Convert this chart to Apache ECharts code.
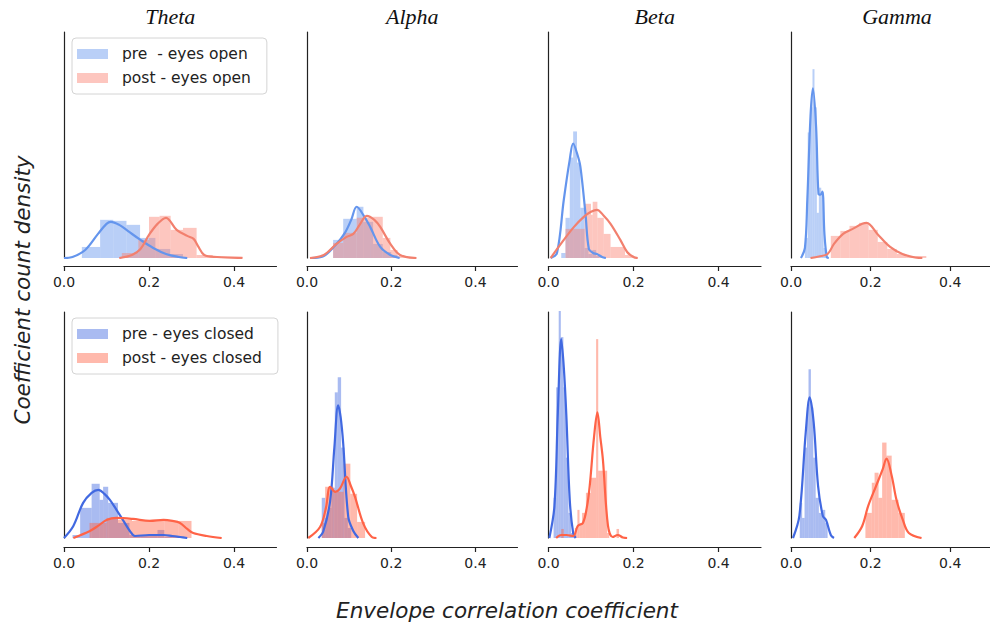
<!DOCTYPE html>
<html><head><meta charset="utf-8">
<script src="https://cdn.jsdelivr.net/npm/echarts@6/dist/echarts.min.js"></script>
<style>html,body{margin:0;padding:0;background:#fff}#c{width:990px;height:624px}</style>
</head><body><div id="c"></div>
<script>
// ---------------- DATA ----------------
const bands = ['Theta', 'Alpha', 'Beta', 'Gamma'];
const openNames = ['pre  - eyes open', 'post - eyes open'];
const closedNames = ['pre - eyes closed', 'post - eyes closed'];
const xTicks = [0, 0.2, 0.4];
const xTitle = 'Envelope correlation coefficient';
const yTitle = 'Coefficient count density';

// histogram bins: [binStart, binEnd, density]; kde: [x, density]
const thetaOpenPreBins = [[0.042,0.085,2.2],[0.085,0.116,7.6],[0.116,0.147,7.4],[0.147,0.179,6.6],[0.179,0.215,4.0],[0.215,0.25,1.8],[0.25,0.28,0.8]];
const thetaOpenPreKde = [[0,0],[0.02,0.2],[0.05,1.6],[0.08,4.8],[0.1,6.8],[0.11,7.2],[0.13,6.6],[0.15,5.4],[0.18,3.6],[0.21,2.0],[0.24,0.8],[0.27,0.2],[0.29,0]];
const thetaOpenPostBins = [[0.136,0.175,1.0],[0.175,0.2,3.6],[0.2,0.225,8.2],[0.225,0.251,8.4],[0.251,0.28,5.6],[0.28,0.312,6.0],[0.312,0.35,0.6],[0.35,0.42,0.3]];
const thetaOpenPostKde = [[0.13,0],[0.16,0.6],[0.18,1.8],[0.2,4.6],[0.22,6.8],[0.24,8.0],[0.265,5.6],[0.29,4.4],[0.305,3.8],[0.315,2.4],[0.33,0.6],[0.36,0.2],[0.42,0]];

const alphaOpenPreBins = [[0.062,0.086,3.6],[0.086,0.118,7.8],[0.118,0.134,10.2],[0.134,0.157,7.2],[0.157,0.18,2.8],[0.18,0.2,1.2],[0.2,0.215,0.6]];
const alphaOpenPreKde = [[0.01,0],[0.04,0.4],[0.07,2.8],[0.09,5.0],[0.105,7.6],[0.118,10.2],[0.135,8.4],[0.15,6.2],[0.174,2.2],[0.198,0.6],[0.22,0]];
const alphaOpenPostBins = [[0.062,0.086,3.0],[0.086,0.118,5.0],[0.118,0.15,8.0],[0.15,0.18,8.2],[0.18,0.198,4.0],[0.198,0.215,1.6],[0.215,0.24,0.4]];
const alphaOpenPostKde = [[0.007,0],[0.04,0.6],[0.07,2.8],[0.094,4.2],[0.11,4.8],[0.125,6.6],[0.142,8.4],[0.16,7.6],[0.174,6.2],[0.198,2.8],[0.221,0.6],[0.26,0]];

const betaOpenPreBins = [[0.03,0.04,1.0],[0.04,0.05,8.0],[0.05,0.058,20.0],[0.058,0.067,25.2],[0.067,0.075,19.0],[0.075,0.085,10.0],[0.085,0.094,2.0],[0.094,0.103,0.8],[0.103,0.112,1.6],[0.112,0.12,0.4]];
const betaOpenPreKde = [[0.005,0],[0.02,1.0],[0.036,11.6],[0.05,19.6],[0.058,22.8],[0.068,20.6],[0.075,18.2],[0.087,8.8],[0.095,1.8],[0.105,1.0],[0.114,0.8],[0.126,0.2],[0.135,0]];
const betaOpenPostBins = [[0.04,0.085,5.8],[0.085,0.1,10.8],[0.1,0.104,8.6],[0.104,0.115,11.2],[0.115,0.13,8.0],[0.13,0.146,4.8],[0.146,0.18,2.2],[0.18,0.2,0.6]];
const betaOpenPostKde = [[0.005,0],[0.036,3.6],[0.06,6.2],[0.083,8.2],[0.1,9.2],[0.114,9.6],[0.13,8.4],[0.146,6.8],[0.169,3.6],[0.185,1.2],[0.2,0.2],[0.21,0]];

const gammaOpenPreBins = [[0.035,0.042,4.0],[0.042,0.048,25.0],[0.048,0.054,30.0],[0.054,0.059,37.6],[0.059,0.065,30.0],[0.065,0.07,9.0],[0.07,0.076,14.0],[0.076,0.082,13.0],[0.082,0.088,2.0]];
const gammaOpenPreKde = [[0.025,0],[0.035,2.0],[0.041,11.6],[0.049,28.2],[0.055,33.8],[0.063,26.2],[0.069,12.8],[0.074,12.6],[0.079,13.2],[0.084,4.8],[0.09,0.2],[0.095,0]];
const gammaOpenPostBins = [[0.1,0.124,4.4],[0.124,0.147,5.4],[0.147,0.171,6.4],[0.171,0.195,7.0],[0.195,0.218,5.6],[0.218,0.242,3.2],[0.242,0.266,1.8],[0.266,0.29,0.8],[0.29,0.34,0.4]];
const gammaOpenPostKde = [[0.049,0],[0.07,0.3],[0.092,0.8],[0.108,2.8],[0.131,4.8],[0.155,5.8],[0.179,6.8],[0.19,7.0],[0.217,4.8],[0.249,2.2],[0.28,0.8],[0.312,0.1],[0.33,0]];

const thetaClosedPreBins = [[0.02,0.038,0.6],[0.038,0.065,6.0],[0.065,0.084,10.8],[0.084,0.092,7.6],[0.092,0.104,10.2],[0.104,0.127,7.0],[0.127,0.154,3.0],[0.154,0.18,0.6],[0.18,0.22,0.4],[0.22,0.236,1.6],[0.236,0.27,0.2]];
const thetaClosedPreKde = [[0,0],[0.022,2.4],[0.045,7.0],[0.065,9.0],[0.081,9.6],[0.095,8.8],[0.108,7.6],[0.125,5.4],[0.14,3.4],[0.155,1.4],[0.167,0.4],[0.2,0.6],[0.234,0.6],[0.255,0.4],[0.273,0.2],[0.29,0]];
const thetaClosedPostBins = [[0.06,0.1,3.0],[0.1,0.127,4.0],[0.127,0.16,3.6],[0.16,0.2,3.4],[0.2,0.236,3.6],[0.236,0.27,3.4],[0.27,0.3,3.4]];
const thetaClosedPostKde = [[0.022,0],[0.061,1.4],[0.08,2.4],[0.1,3.6],[0.124,4.0],[0.162,3.8],[0.202,3.4],[0.234,3.6],[0.255,3.4],[0.273,3.0],[0.29,1.8],[0.304,1.0],[0.336,0.4],[0.371,0]];

const alphaClosedPreBins = [[0.035,0.043,8.0],[0.043,0.05,4.0],[0.05,0.058,6.0],[0.058,0.066,10.0],[0.066,0.073,29.0],[0.073,0.081,32.0],[0.081,0.089,18.0],[0.089,0.097,4.0],[0.097,0.105,2.0]];
const alphaClosedPreKde = [[0.027,0],[0.039,1.4],[0.055,7.4],[0.065,18.0],[0.074,26.4],[0.08,24.0],[0.086,18.8],[0.098,4.2],[0.11,1.4],[0.122,0]];
const alphaClosedPostBins = [[0.035,0.043,3.0],[0.043,0.063,10.2],[0.063,0.087,9.2],[0.087,0.103,14.8],[0.103,0.119,8.8],[0.119,0.138,3.2]];
const alphaClosedPostKde = [[0.003,0],[0.031,2.2],[0.045,6.0],[0.055,10.2],[0.067,9.2],[0.078,9.8],[0.094,12.2],[0.104,10.4],[0.114,8.2],[0.134,2.8],[0.154,0.2],[0.165,0]];

const betaClosedPreBins = [[0.012,0.018,8.0],[0.018,0.024,30.0],[0.024,0.029,45.2],[0.029,0.035,40.0],[0.035,0.041,30.0],[0.041,0.047,16.0],[0.047,0.053,5.0],[0.053,0.06,1.0]];
const betaClosedPreKde = [[0.002,0],[0.014,6.4],[0.022,25],[0.03,39.6],[0.036,34],[0.042,24.4],[0.05,7.6],[0.058,1.0],[0.064,0]];
const betaClosedPostBins = [[0.03,0.036,1.8],[0.062,0.068,2.0],[0.068,0.073,5.6],[0.073,0.079,3.0],[0.079,0.088,5.0],[0.088,0.1,9.0],[0.1,0.112,12.0],[0.112,0.117,39.6],[0.117,0.138,13.4],[0.138,0.143,1.0],[0.16,0.166,1.8]];
const betaClosedPostKde = [[0.018,0],[0.03,0.6],[0.042,0.6],[0.058,0.4],[0.069,2.4],[0.081,3.0],[0.09,6.0],[0.097,10.4],[0.107,20],[0.115,25],[0.122,20],[0.128,15.6],[0.14,2.4],[0.151,0.2],[0.163,0.6],[0.175,0.1],[0.185,0]];

const gammaClosedPreBins = [[0.022,0.028,7.0],[0.028,0.034,4.0],[0.034,0.04,18.0],[0.04,0.044,26.0],[0.044,0.05,33.6],[0.05,0.056,26.0],[0.056,0.062,16.0],[0.062,0.07,8.0],[0.07,0.078,5.0],[0.078,0.086,5.6],[0.086,0.092,3.0]];
const gammaClosedPreKde = [[0.005,0],[0.021,4.4],[0.037,21],[0.047,28],[0.057,23],[0.068,10.4],[0.08,4.4],[0.088,3.6],[0.1,0.6],[0.108,0]];
const gammaClosedPostBins = [[0.187,0.203,5.0],[0.203,0.21,11.0],[0.21,0.22,13.0],[0.22,0.229,8.0],[0.229,0.24,19.0],[0.24,0.253,16.4],[0.253,0.27,7.6],[0.27,0.286,5.0]];
const gammaClosedPostKde = [[0.159,0],[0.179,2.4],[0.194,6.4],[0.214,10.4],[0.23,13.6],[0.24,15.8],[0.253,12.4],[0.265,7.6],[0.281,3.6],[0.296,1.0],[0.328,0]];

// ---------------- BUILD ----------------
const panels = [
  [[thetaOpenPreBins,thetaOpenPreKde,thetaOpenPostBins,thetaOpenPostKde],
   [alphaOpenPreBins,alphaOpenPreKde,alphaOpenPostBins,alphaOpenPostKde],
   [betaOpenPreBins,betaOpenPreKde,betaOpenPostBins,betaOpenPostKde],
   [gammaOpenPreBins,gammaOpenPreKde,gammaOpenPostBins,gammaOpenPostKde]],
  [[thetaClosedPreBins,thetaClosedPreKde,thetaClosedPostBins,thetaClosedPostKde],
   [alphaClosedPreBins,alphaClosedPreKde,alphaClosedPostBins,alphaClosedPostKde],
   [betaClosedPreBins,betaClosedPreKde,betaClosedPostBins,betaClosedPostKde],
   [gammaClosedPreBins,gammaClosedPreKde,gammaClosedPostBins,gammaClosedPostKde]]
];
const rowNames = [openNames, closedNames];

// layout / style
const colLeft = [64, 307, 548.5, 791];
const colWidth = [212.5, 210.5, 212.5, 212];
const yAxisOffset = [8, 9, 8, 8];
const rowTop = [32, 312];
const rowH = 226;
const xAxisOffset = [8, 9];
const barColors = [['rgba(100,149,237,0.45)', 'rgba(250,128,114,0.45)'], ['rgba(65,105,225,0.45)', 'rgba(255,99,71,0.45)']];
const lineColors = [['#6495ED', '#F2806E'], ['#4169E1', '#FF6347']];
const axisColor = '#222';
const baseFont = 'DejaVu Sans';

const grid = [], xAxis = [], yAxis = [], series = [];
function renderBin(color) {
  return function (params, api) {
    const p0 = api.coord([api.value(0), 0]);
    const p1 = api.coord([api.value(1), api.value(2)]);
    return { type: 'rect', shape: { x: p0[0], y: p1[1], width: p1[0] - p0[0], height: p0[1] - p1[1] }, style: { fill: color } };
  };
}
let gi = 0;
for (let r = 0; r < 2; r++) {
  for (let c = 0; c < 4; c++) {
    grid.push({ left: colLeft[c], width: colWidth[c], top: rowTop[r], height: rowH, containLabel: false });
    xAxis.push({
      type: 'value', gridIndex: gi, min: 0, max: 0.5, offset: xAxisOffset[r],
      axisLine: { show: true, onZero: false, lineStyle: { color: axisColor, width: 1.2 } },
      axisTick: { show: true, length: 5, customValues: xTicks, lineStyle: { color: axisColor, width: 1.2 } },
      axisLabel: { customValues: xTicks, margin: 9, color: '#222', fontFamily: baseFont, fontSize: 14, formatter: v => v.toFixed(1) },
      splitLine: { show: false }
    });
    yAxis.push({
      type: 'value', gridIndex: gi, min: 0, max: 45, offset: yAxisOffset[c],
      axisLine: { show: true, lineStyle: { color: axisColor, width: 1.2 } },
      axisTick: { show: false }, axisLabel: { show: false }, splitLine: { show: false }
    });
    const d = panels[r][c];
    for (let k = 0; k < 2; k++) {
      series.push({
        type: 'custom', name: rowNames[r][k], xAxisIndex: gi, yAxisIndex: gi,
        itemStyle: { color: barColors[r][k] },
        renderItem: renderBin(barColors[r][k]),
        encode: { x: [0, 1], y: 2 }, data: d[k * 2], silent: true
      });
      series.push({
        type: 'line', name: rowNames[r][k] + ' kde', xAxisIndex: gi, yAxisIndex: gi,
        data: d[k * 2 + 1], smooth: 0.35, showSymbol: false, symbol: 'none',
        lineStyle: { color: lineColors[r][k], width: 2.2 }, itemStyle: { color: lineColors[r][k] }, silent: true
      });
    }
    gi++;
  }
}

const legendCommon = {
  orient: 'vertical', icon: 'rect', itemWidth: 31, itemHeight: 10, itemGap: 8,
  padding: [8, 16, 8, 5], borderColor: '#d4d4d4', borderWidth: 1, borderRadius: 4,
  backgroundColor: 'rgba(255,255,255,0.85)', selectedMode: false,
  textStyle: { fontFamily: baseFont, fontSize: 15.5, color: '#222', padding: [0, 0, 0, 9] }
};
const legend = [
  Object.assign({}, legendCommon, { data: openNames, left: 72, top: 38 }),
  Object.assign({}, legendCommon, { data: closedNames, left: 72, top: 318 })
];

const graphic = [];
for (let c = 0; c < 4; c++) {
  graphic.push({ type: 'text', x: colLeft[c] + colWidth[c] / 2, y: 16,
    style: { text: bands[c], textAlign: 'center', textVerticalAlign: 'middle', font: 'italic 22px "Liberation Serif"', fill: '#111' } });
}
graphic.push({ type: 'text', x: 507, y: 610, style: { text: xTitle, textAlign: 'center', textVerticalAlign: 'middle', font: 'italic 21.5px "DejaVu Sans"', fill: '#222' } });
graphic.push({ type: 'text', x: 22, y: 290, rotation: Math.PI / 2, style: { text: yTitle, textAlign: 'center', textVerticalAlign: 'middle', font: 'italic 21.5px "DejaVu Sans"', fill: '#222' } });

const chart = echarts.init(document.getElementById('c'), null, { renderer: 'svg', width: 990, height: 624 });
chart.setOption({ animation: false, backgroundColor: '#fff', grid, xAxis, yAxis, series, legend, graphic });
</script>
</body></html>
